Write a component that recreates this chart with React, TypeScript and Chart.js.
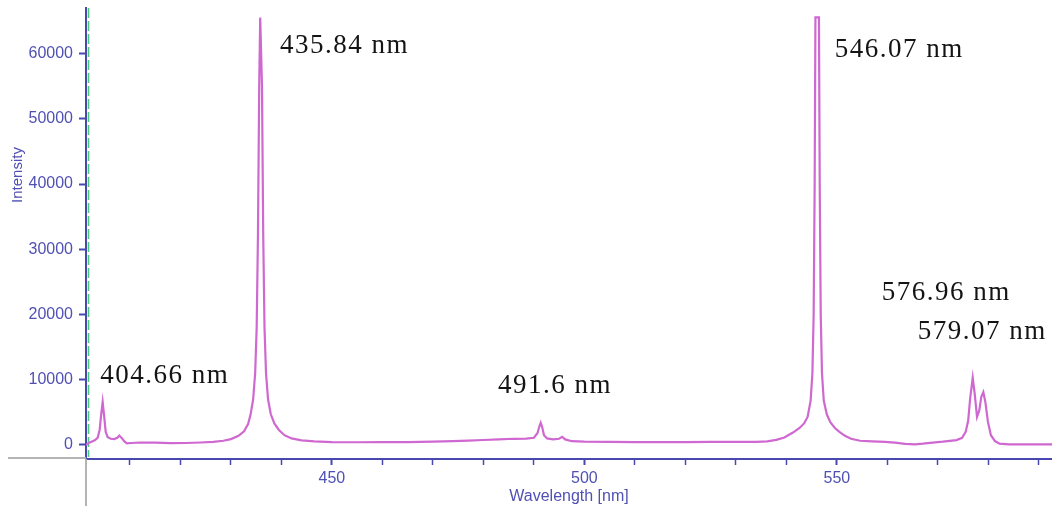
import React, { useEffect, useRef } from "react";
import { Chart, registerables } from "chart.js";

Chart.register(...registerables);

// Spectrum samples
const wavelengths: number[] = [
  401.3, 401.9, 402.5, 403.1, 403.6, 404.0, 404.3, 404.6, 404.9, 405.2,
  405.6, 406.2, 406.9, 407.5, 407.9, 408.4, 408.9, 409.4, 410.2, 412.0,
  415.0, 418.0, 421.0, 424.0, 426.5, 428.5, 430.0, 431.5, 432.6, 433.4,
  433.9, 434.4, 434.8, 435.1, 435.35, 435.6, 435.8, 435.95, 436.15, 436.4,
  436.65, 436.95, 437.35, 437.9, 438.6, 439.5, 440.6, 442.0, 444.0, 446.5,
  450.0, 455.0, 460.0, 465.0, 470.0, 474.0, 477.0, 480.0, 483.0, 486.0,
  488.5, 490.0, 490.7, 491.1, 491.35, 491.65, 492.0, 492.6, 493.8, 495.0,
  495.6, 496.2, 497.5, 500.0, 505.0, 510.0, 515.0, 520.0, 525.0, 530.0,
  534.0, 536.2, 538.0, 539.6, 541.3, 542.6, 543.5, 544.2, 544.8, 545.15,
  545.4, 545.6, 545.75, 546.45, 546.6, 546.8, 547.05, 547.4, 548.0, 548.7,
  549.6, 550.5, 551.6, 552.8, 554.6, 557.0, 559.5, 561.5, 563.5, 565.5,
  567.0, 568.5, 571.0, 573.7, 574.8, 575.5, 576.0, 576.4, 576.9, 577.3,
  577.75, 578.2, 578.6, 579.0, 579.4, 579.9, 580.5, 581.3, 582.2, 584.0,
  588.0, 592.6,
];
const intensities: number[] = [
  0, 350, 550, 750, 1100, 2300, 4600, 6600, 4400, 2000,
  1200, 950, 900, 1100, 1450, 1050, 550, 250, 300, 380,
  350, 280, 300, 380, 480, 650, 900, 1400, 2100, 3200,
  4700, 7000, 11000, 18000, 32000, 55000, 65535, 65535, 55000, 32000,
  18000, 11000, 7000, 4700, 3300, 2300, 1500, 1000, 700, 550,
  450, 420, 430, 450, 520, 600, 680, 760, 850, 950,
  980, 1100, 1800, 2900, 3400, 2700, 1500, 1000, 850, 950,
  1250, 850, 580, 500, 460, 440, 430, 440, 460, 470,
  480, 560, 780, 1150, 1900, 2600, 3300, 4300, 6800, 11000,
  20000, 40000, 65535, 65535, 40000, 20000, 11000, 6800, 4700, 3500,
  2600, 2000, 1400, 950, 650, 550, 480, 350, 180, 100,
  200, 330, 500, 750, 1100, 2000, 3700, 7200, 10300, 7800,
  4300, 5300, 7400, 8100, 6600, 3600, 1500, 600, 200, 100,
  100, 100,
];

const xTickValues: number[] = [410, 420, 430, 440, 450, 460, 470, 480, 490, 500, 510, 520, 530, 540, 550, 560, 570, 580, 590];
const xLabelledTicks: number[] = [450, 500, 550];
const yTickValues: number[] = [0, 10000, 20000, 30000, 40000, 50000, 60000];

const peakLabels: string[] = ["404.66 nm", "435.84 nm", "491.6 nm", "546.07 nm", "576.96 nm", "579.07 nm"];
const peakLabelX: number[] = [404.1, 439.7, 482.9, 549.6, 558.9, 566.0];
const peakLabelY: number[] = [10640, 61160, 9110, 60550, 23350, 17380];

const X_MIN = 401.3;
const X_MAX = 592.6;
const Y_MIN = -2150;
const Y_MAX = 66980;

const AXIS_BLUE = "#4848b0";
const LABEL_BLUE = "#5050b4";

const decorPlugin = {
  id: "decor",
  beforeDatasetsDraw(chart: any) {
    const { ctx, chartArea } = chart;
    ctx.save();
    // gray frame lines
    ctx.strokeStyle = "#b4b4b4";
    ctx.lineWidth = 2;
    ctx.beginPath();
    ctx.moveTo(8, chartArea.bottom - 1);
    ctx.lineTo(chartArea.left, chartArea.bottom - 1);
    ctx.moveTo(chartArea.left, chartArea.bottom);
    ctx.lineTo(chartArea.left, chart.height);
    ctx.stroke();
    // green dashed marker next to the y axis
    ctx.strokeStyle = "#48c878";
    ctx.lineWidth = 1.5;
    ctx.setLineDash([10, 3]);
    ctx.beginPath();
    ctx.moveTo(chartArea.left + 2.5, chartArea.top);
    ctx.lineTo(chartArea.left + 2.5, chartArea.bottom - 2);
    ctx.stroke();
    ctx.restore();
  },
  afterDraw(chart: any) {
    const { ctx } = chart;
    const xs = chart.scales.x;
    const ys = chart.scales.y;
    ctx.save();
    ctx.font = '27px "Liberation Serif", "Times New Roman", serif';
    ctx.fillStyle = "#141414";
    ctx.textAlign = "left";
    ctx.textBaseline = "middle";
    (ctx as any).letterSpacing = "1.5px";
    peakLabels.forEach((t, i) => {
      ctx.fillText(t, xs.getPixelForValue(peakLabelX[i]), ys.getPixelForValue(peakLabelY[i]));
    });
    ctx.restore();

    ctx.save();
    ctx.translate(18, 175);
    ctx.rotate(-Math.PI / 2);
    ctx.font = '15px "Liberation Sans", Arial, sans-serif';
    ctx.fillStyle = LABEL_BLUE;
    ctx.textAlign = "center";
    ctx.textBaseline = "middle";
    ctx.fillText("Intensity", 0, 0);
    ctx.restore();
  },
};

export default function App() {
  const canvasRef = useRef<HTMLCanvasElement | null>(null);

  useEffect(() => {
    const canvas = canvasRef.current;
    if (!canvas) return;
    Chart.defaults.font.family = '"Liberation Sans", Arial, sans-serif';
    const points = wavelengths.map((w, i) => ({ x: w, y: intensities[i] }));
    const chart = new Chart(canvas, {
      type: "line",
      data: {
        datasets: [
          {
            data: points,
            borderColor: "#cf68d0",
            borderWidth: 2.2,
            pointRadius: 0,
            tension: 0,
            fill: false,
          },
        ],
      },
      options: {
        responsive: false,
        animation: false,
        layout: { padding: { top: 8, left: 0, right: 0, bottom: 0 } },
        plugins: {
          legend: { display: false },
          tooltip: { enabled: false },
        },
        scales: {
          x: {
            type: "linear",
            min: X_MIN,
            max: X_MAX,
            afterBuildTicks: (scale: any) => {
              scale.ticks = xTickValues.map((v) => ({ value: v }));
            },
            afterFit: (scale: any) => {
              scale.height = 47;
              scale.paddingLeft = 0;
              scale.paddingRight = 0;
            },
            ticks: {
              autoSkip: false,
              maxRotation: 0,
              minRotation: 0,
              padding: 4,
              color: LABEL_BLUE,
              font: { size: 16 },
              callback: (v: any) => (xLabelledTicks.includes(Number(v)) ? String(v) : ""),
            },
            grid: {
              drawOnChartArea: false,
              drawTicks: true,
              tickLength: 6,
              tickColor: AXIS_BLUE,
              tickWidth: (c: any) => (c.tick && xLabelledTicks.includes(c.tick.value) ? 2 : 1.5),
            },
            border: { display: true, color: AXIS_BLUE, width: 2 },
            title: {
              display: true,
              text: "Wavelength [nm]",
              color: LABEL_BLUE,
              font: { size: 16 },
              padding: { top: 0, bottom: 0 },
            },
          },
          y: {
            type: "linear",
            min: Y_MIN,
            max: Y_MAX,
            afterBuildTicks: (scale: any) => {
              scale.ticks = yTickValues.map((v) => ({ value: v }));
            },
            afterFit: (scale: any) => {
              scale.width = 86;
              scale.paddingTop = 0;
              scale.paddingBottom = 0;
            },
            ticks: {
              padding: 6,
              color: LABEL_BLUE,
              font: { size: 16 },
              callback: (v: any) => String(v),
            },
            grid: {
              drawOnChartArea: false,
              drawTicks: true,
              tickLength: 7,
              tickColor: AXIS_BLUE,
              tickWidth: 2,
            },
            border: { display: true, color: AXIS_BLUE, width: 2 },
          },
        },
      },
      plugins: [decorPlugin],
    });
    return () => chart.destroy();
  }, []);

  return (
    <div style={{ position: "absolute", left: 0, top: 0, width: 1052, height: 506, background: "#ffffff" }}>
      <canvas ref={canvasRef} width={1052} height={506} style={{ display: "block" }} />
    </div>
  );
}
